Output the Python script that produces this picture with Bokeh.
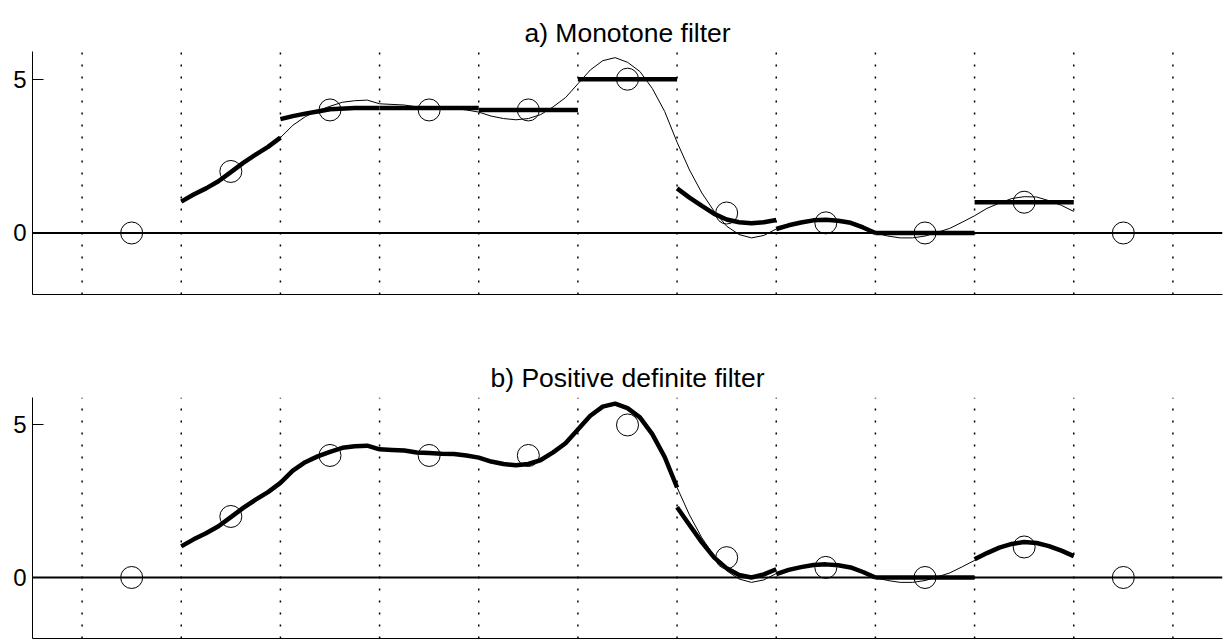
from bokeh.plotting import figure
from bokeh.models import FixedTicker, Span, Range1d
from bokeh.core.properties import value
from bokeh.layouts import column
from bokeh.embed import file_html
from bokeh.resources import INLINE

# ---------------- data ----------------
CELL_X = [0, 1, 2, 3, 4, 5, 6, 7, 8, 9, 10]
CELL_Q = [0, 2, 4, 4, 4, 5, 0.65, 0.33, 0, 1, 0]
BOUNDARIES = [-0.5, 0.5, 1.5, 2.5, 3.5, 4.5, 5.5, 6.5, 7.5, 8.5, 9.5, 10.5]
Y_TICKS = [0, 5]
TITLES = ["a) Monotone filter", "b) Positive definite filter"]

# unfiltered reconstruction (thin curve)
THIN_X = [0.5, 0.625, 0.75, 0.875, 1.0, 1.125, 1.25, 1.375, 1.5, 1.625, 1.75, 1.875,
          2.0, 2.125, 2.25, 2.375, 2.5, 2.625, 2.75, 2.875, 3.0, 3.125, 3.25, 3.375,
          3.5, 3.625, 3.75, 3.875, 4.0, 4.125, 4.25, 4.375, 4.5, 4.625, 4.75, 4.875,
          5.0, 5.125, 5.25, 5.375, 5.5, 5.625, 5.75, 5.875, 6.0, 6.125, 6.25, 6.375,
          6.5, 6.625, 6.75, 6.875, 7.0, 7.125, 7.25, 7.375, 7.5, 7.625, 7.75, 7.875,
          8.0, 8.125, 8.25, 8.375, 8.5, 8.625, 8.75, 8.875, 9.0, 9.125, 9.25, 9.375, 9.5]
THIN_Y = [1.02, 1.25, 1.45, 1.68, 1.98, 2.28, 2.55, 2.8, 3.1, 3.5, 3.78, 3.97,
          4.12, 4.25, 4.3, 4.32, 4.2, 4.18, 4.16, 4.1, 4.08, 4.06, 4.05, 4.0,
          3.93, 3.8, 3.72, 3.68, 3.72, 3.85, 4.1, 4.4, 4.85, 5.3, 5.6, 5.7,
          5.55, 5.25, 4.7, 3.95, 2.95, 2.05, 1.3, 0.7, 0.22, -0.05, -0.16, -0.08,
          0.13, 0.28, 0.36, 0.42, 0.43, 0.4, 0.33, 0.18, 0.0, -0.1, -0.16, -0.16,
          -0.1, 0.02, 0.15, 0.35, 0.56, 0.8, 0.97, 1.12, 1.18, 1.17, 1.05, 0.9, 0.7]

# a) monotone filter, one piece per cell
MONO_XS = [
    [0.5, 0.625, 0.75, 0.875, 1.0, 1.125, 1.25, 1.375, 1.5],
    [1.5, 1.625, 1.75, 1.875, 2.0, 2.25, 2.5],
    [2.5, 3.5],
    [3.5, 4.5],
    [4.5, 5.5],
    [5.5, 5.625, 5.75, 5.875, 6.0, 6.125, 6.25, 6.375, 6.5],
    [6.5, 6.625, 6.75, 6.875, 7.0, 7.125, 7.25, 7.375, 7.5],
    [7.5, 8.5],
    [8.5, 9.5],
]
MONO_YS = [
    [1.02, 1.25, 1.45, 1.68, 1.98, 2.28, 2.55, 2.8, 3.1],
    [3.7, 3.8, 3.88, 3.95, 4.02, 4.06, 4.06],
    [4.06, 4.06],
    [4.0, 4.0],
    [5.0, 5.0],
    [1.45, 1.15, 0.88, 0.62, 0.44, 0.35, 0.32, 0.35, 0.42],
    [0.13, 0.25, 0.34, 0.41, 0.43, 0.4, 0.33, 0.18, 0.0],
    [0.0, 0.0],
    [1.0, 1.0],
]

# b) positive definite filter
POSDEF_XS = [
    [0.5, 0.625, 0.75, 0.875, 1.0, 1.125, 1.25, 1.375, 1.5, 1.625, 1.75, 1.875,
     2.0, 2.125, 2.25, 2.375, 2.5, 2.625, 2.75, 2.875, 3.0, 3.125, 3.25, 3.375,
     3.5, 3.625, 3.75, 3.875, 4.0, 4.125, 4.25, 4.375, 4.5, 4.625, 4.75, 4.875,
     5.0, 5.125, 5.25, 5.375, 5.5],
    [5.5, 5.625, 5.75, 5.875, 6.0, 6.125, 6.25, 6.375, 6.5],
    [6.5, 6.625, 6.75, 6.875, 7.0, 7.125, 7.25, 7.375, 7.5],
    [7.5, 8.5],
    [8.5, 8.625, 8.75, 8.875, 9.0, 9.125, 9.25, 9.375, 9.5],
]
POSDEF_YS = [
    [1.02, 1.25, 1.45, 1.68, 1.98, 2.28, 2.55, 2.8, 3.1, 3.5, 3.78, 3.97,
     4.12, 4.25, 4.3, 4.32, 4.2, 4.18, 4.16, 4.1, 4.08, 4.06, 4.05, 4.0,
     3.93, 3.8, 3.72, 3.68, 3.72, 3.85, 4.1, 4.4, 4.85, 5.3, 5.6, 5.7,
     5.55, 5.25, 4.7, 3.95, 2.95],
    [2.3, 1.72, 1.15, 0.65, 0.3, 0.08, 0.0, 0.1, 0.27],
    [0.11, 0.25, 0.34, 0.41, 0.43, 0.4, 0.33, 0.18, 0.0],
    [0.0, 0.0],
    [0.6, 0.8, 0.98, 1.1, 1.16, 1.13, 1.03, 0.88, 0.7],
]

FONT = "Liberation Sans"
Y_MIN, Y_MAX = -2, 5.9
X_MIN, X_MAX = -1, 11


def make_title(text, height, baseline_from_bottom):
    t = figure(width=1225, height=height, x_range=Range1d(X_MIN, X_MAX),
               y_range=Range1d(0, height), x_axis_type=None, y_axis_type=None,
               output_backend="svg", toolbar_location=None,
               min_border_left=32, min_border_right=3, min_border_top=0,
               min_border_bottom=0)
    t.xgrid.visible = False
    t.ygrid.visible = False
    t.outline_line_color = None
    t.text(x=[(X_MIN + X_MAX) / 2], y=[baseline_from_bottom], text=[text],
           text_align="center", text_baseline="alphabetic",
           text_font=value(FONT), text_font_size=value("26.5px"), text_color="black")
    return t


def make_panel(thick_xs, thick_ys, height, top, bottom):
    p = figure(width=1225, height=height, x_range=Range1d(X_MIN, X_MAX),
               y_range=Range1d(Y_MIN, Y_MAX),
               output_backend="svg", toolbar_location=None,
               min_border_left=32, min_border_right=3,
               min_border_top=top, min_border_bottom=bottom)
    p.xgrid.visible = False
    p.ygrid.visible = False
    p.outline_line_color = None
    p.background_fill_color = "white"
    p.border_fill_color = "white"

    ya = p.yaxis[0]
    ya.ticker = FixedTicker(ticks=Y_TICKS)
    ya.major_tick_in = 11
    ya.major_tick_out = 0
    ya.minor_tick_in = 0
    ya.minor_tick_out = 0
    ya.major_label_standoff = 6
    ya.major_label_text_font = FONT
    ya.major_label_text_font_size = "24px"
    ya.major_label_text_color = "black"
    ya.axis_line_color = "black"
    ya.major_tick_line_color = "black"

    xa = p.xaxis[0]
    xa.ticker = FixedTicker(ticks=[])
    xa.major_tick_in = 0
    xa.major_tick_out = 0
    xa.minor_tick_in = 0
    xa.minor_tick_out = 0
    xa.major_label_standoff = 0
    xa.major_label_text_font_size = "0px"
    xa.axis_line_color = "black"

    # dotted cell boundaries
    p.segment(x0=BOUNDARIES, y0=[Y_MIN] * len(BOUNDARIES), x1=BOUNDARIES,
              y1=[Y_MAX] * len(BOUNDARIES), line_color="black", line_width=1.5,
              line_dash="2 10")
    # zero line
    p.add_layout(Span(location=0, dimension="width", line_color="black", line_width=2))
    # thin curve
    p.line(THIN_X, THIN_Y, line_color="black", line_width=1)
    # thick filtered pieces
    p.multi_line(thick_xs, thick_ys, line_color="black", line_width=4.5)
    # cell averages
    p.scatter(CELL_X, CELL_Q, marker="circle", size=22, fill_color=None,
              line_color="black", line_width=1)
    return p


ta = make_title(TITLES[0], 51, 19)
pa = make_panel(MONO_XS, MONO_YS, 269, 0, 26)
tb = make_title(TITLES[1], 77, 20)
pb = make_panel(POSDEF_XS, POSDEF_YS, 243, 0, 2)

layout = column(ta, pa, tb, pb, spacing=0)
open("out.html", "w").write(file_html(layout, INLINE))
